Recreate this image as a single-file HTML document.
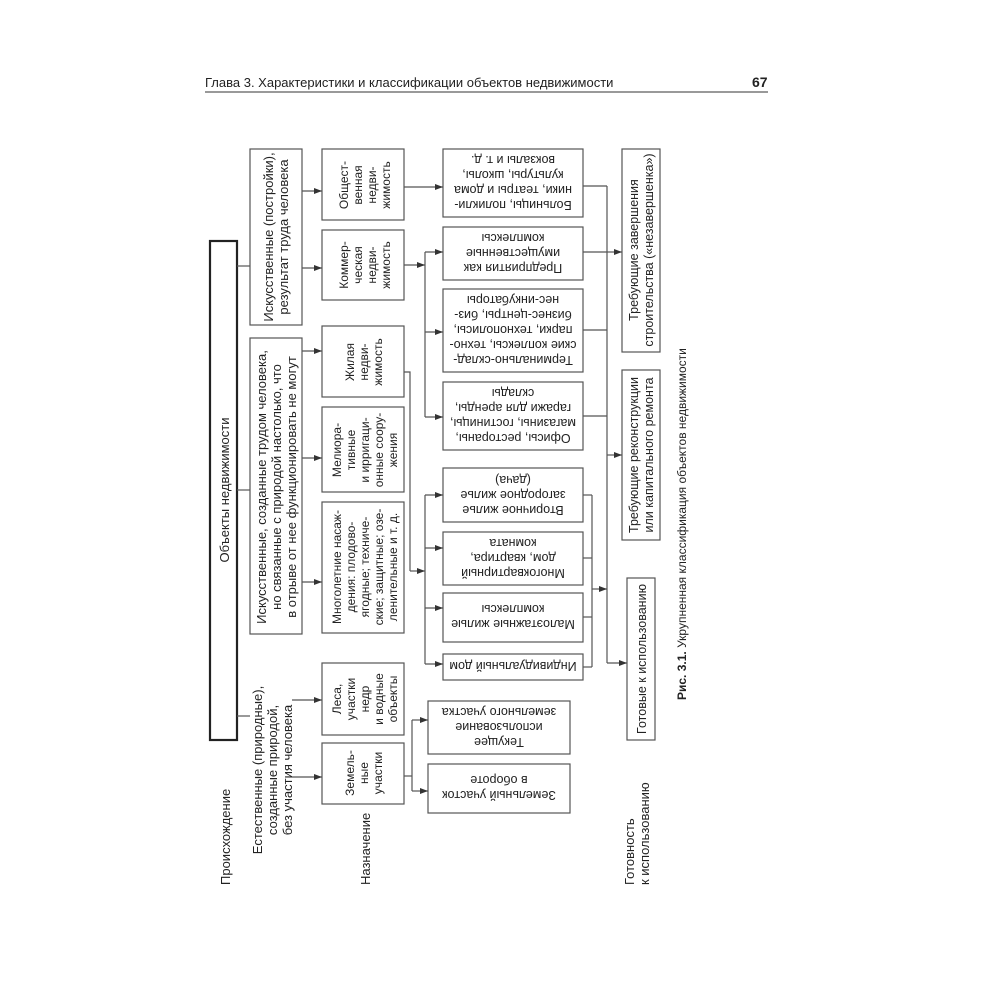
<!DOCTYPE html>
<html><head><meta charset="utf-8">
<style>
html,body{margin:0;padding:0;background:#fff;}
svg{display:block;}
text{font-family:"Liberation Sans","DejaVu Sans",sans-serif;fill:#222;}
</style></head>
<body>
<svg width="1000" height="1000" viewBox="0 0 1000 1000" xmlns="http://www.w3.org/2000/svg">
<defs>
<marker id="a" markerWidth="8" markerHeight="6" refX="8" refY="3" orient="auto" markerUnits="userSpaceOnUse">
<path d="M0,0 L8,3 L0,6 z" fill="#333"/>
</marker>
</defs>
<text x="205" y="87" font-size="13">Глава 3. Характеристики и классификации объектов недвижимости</text>
<text x="752" y="87" font-size="14" font-weight="bold">67</text>
<line x1="205" y1="92" x2="768" y2="92" stroke="#333" stroke-width="1"/>

<g fill="none" stroke="#555" stroke-width="1.2">
<rect x="210" y="241" width="27" height="499" stroke="#222" stroke-width="2.2"/>
<rect x="250" y="149" width="52" height="176"/>
<rect x="250" y="338" width="52" height="296"/>
<rect x="322" y="149" width="82" height="71"/>
<rect x="322" y="230" width="82" height="70"/>
<rect x="322" y="326" width="82" height="71"/>
<rect x="322" y="407" width="82" height="85"/>
<rect x="322" y="502" width="82" height="131"/>
<rect x="322" y="663" width="82" height="72"/>
<rect x="322" y="743" width="82" height="61"/>
<rect x="443" y="149" width="140" height="68"/>
<rect x="443" y="227" width="140" height="53"/>
<rect x="443" y="289" width="140" height="83"/>
<rect x="443" y="382" width="140" height="68"/>
<rect x="443" y="468" width="140" height="54"/>
<rect x="443" y="532" width="140" height="53"/>
<rect x="443" y="593" width="140" height="49"/>
<rect x="443" y="654" width="140" height="26"/>
<rect x="428" y="701" width="142" height="53"/>
<rect x="428" y="764" width="142" height="49"/>
<rect x="622" y="149" width="38" height="203"/>
<rect x="622" y="370" width="38" height="170"/>
<rect x="627" y="578" width="28" height="162"/>

<line x1="237" y1="266" x2="250" y2="266"/>
<line x1="237" y1="490" x2="250" y2="490"/>
<line x1="237" y1="716" x2="250" y2="716"/>
<line x1="302" y1="191" x2="322" y2="191" marker-end="url(#a)"/>
<line x1="302" y1="268" x2="322" y2="268" marker-end="url(#a)"/>
<line x1="302" y1="351" x2="322" y2="351" marker-end="url(#a)"/>
<line x1="302" y1="458" x2="322" y2="458" marker-end="url(#a)"/>
<line x1="302" y1="582" x2="322" y2="582" marker-end="url(#a)"/>
<line x1="292" y1="700" x2="322" y2="700" marker-end="url(#a)"/>
<line x1="292" y1="777" x2="322" y2="777" marker-end="url(#a)"/>
<line x1="404" y1="187" x2="443" y2="187" marker-end="url(#a)"/>
<line x1="404" y1="265" x2="425" y2="265" marker-end="url(#a)"/>
<line x1="425" y1="252" x2="425" y2="417"/>
<line x1="425" y1="252" x2="443" y2="252" marker-end="url(#a)"/>
<line x1="425" y1="332" x2="443" y2="332" marker-end="url(#a)"/>
<line x1="425" y1="417" x2="443" y2="417" marker-end="url(#a)"/>
<polyline points="404,372 410,372 410,571"/>
<line x1="410" y1="571" x2="425" y2="571" marker-end="url(#a)"/>
<line x1="425" y1="495" x2="425" y2="664"/>
<line x1="425" y1="495" x2="443" y2="495" marker-end="url(#a)"/>
<line x1="425" y1="548" x2="443" y2="548" marker-end="url(#a)"/>
<line x1="425" y1="608" x2="443" y2="608" marker-end="url(#a)"/>
<line x1="425" y1="664" x2="443" y2="664" marker-end="url(#a)"/>
<polyline points="404,776 412,776"/>
<line x1="412" y1="720" x2="412" y2="791"/>
<line x1="412" y1="720" x2="428" y2="720" marker-end="url(#a)"/>
<line x1="412" y1="791" x2="428" y2="791" marker-end="url(#a)"/>
<line x1="583" y1="186" x2="607" y2="186"/>
<line x1="583" y1="252" x2="607" y2="252"/>
<line x1="583" y1="330" x2="607" y2="330"/>
<line x1="583" y1="416" x2="607" y2="416"/>
<line x1="607" y1="186" x2="607" y2="663"/>
<line x1="607" y1="252" x2="622" y2="252" marker-end="url(#a)"/>
<line x1="607" y1="455" x2="622" y2="455" marker-end="url(#a)"/>
<line x1="607" y1="663" x2="627" y2="663" marker-end="url(#a)"/>
<line x1="583" y1="495" x2="592" y2="495"/>
<line x1="583" y1="558" x2="592" y2="558"/>
<line x1="583" y1="617" x2="592" y2="617"/>
<line x1="583" y1="667" x2="592" y2="667"/>
<line x1="592" y1="495" x2="592" y2="667"/>
<line x1="592" y1="589" x2="607" y2="589" marker-end="url(#a)"/>
</g>

<g font-size="13" text-anchor="middle">
<g transform="translate(224,490) rotate(-90)"><text y="5">Объекты недвижимости</text></g>
<g transform="translate(276,237) rotate(-90)"><text y="-3">Искусственные (постройки),</text><text y="12">результат труда человека</text></g>
<g transform="translate(276,487) rotate(-90)"><text y="-10">Искусственные, созданные трудом человека,</text><text y="5">но связанные с природой настолько, что</text><text y="20">в отрыве от нее функционировать не могут</text></g>
<g transform="translate(272,770) rotate(-90)"><text y="-10">Естественные (природные),</text><text y="5">созданные природой,</text><text y="20">без участия человека</text></g>
</g>
<g font-size="12" text-anchor="middle">
<g transform="translate(363,185) rotate(-90)"><text y="-15">Общест-</text><text y="-1">венная</text><text y="13">недви-</text><text y="27">жимость</text></g>
<g transform="translate(363,265) rotate(-90)"><text y="-15">Коммер-</text><text y="-1">ческая</text><text y="13">недви-</text><text y="27">жимость</text></g>
<g transform="translate(363,362) rotate(-90)"><text y="-9">Жилая</text><text y="5">недви-</text><text y="19">жимость</text></g>
<g transform="translate(363,450) rotate(-90)"><text y="-22">Мелиора-</text><text y="-8">тивные</text><text y="6">и ирригаци-</text><text y="20">онные соору-</text><text y="34">жения</text></g>
<g transform="translate(363,567) rotate(-90)"><text y="-22">Многолетние насаж-</text><text y="-8">дения: плодово-</text><text y="6">ягодные; техниче-</text><text y="20">ские; защитные; озе-</text><text y="34">ленительные и т. д.</text></g>
<g transform="translate(363,699) rotate(-90)"><text y="-22">Леса,</text><text y="-8">участки</text><text y="6">недр</text><text y="20">и водные</text><text y="34">объекты</text></g>
<g transform="translate(363,773) rotate(-90)"><text y="-9">Земель-</text><text y="5">ные</text><text y="19">участки</text></g>
</g>
<!-- upside-down texts -->
<g font-size="12.5" text-anchor="middle">
<g transform="translate(513,183) rotate(180)"><text y="-18">Больницы, поликли-</text><text y="-3">ники, театры и дома</text><text y="12">культуры, школы,</text><text y="27">вокзалы и т. д.</text></g>
<g transform="translate(513,253) rotate(180)"><text y="-11">Предприятия как</text><text y="4">имущественные</text><text y="19">комплексы</text></g>
<g transform="translate(513,330) rotate(180)"><text y="-26">Терминально-склад-</text><text y="-11">ские коплексы, техно-</text><text y="4">парки, технополисы,</text><text y="19">бизнес-центры, биз-</text><text y="34">нес-инкубаторы</text></g>
<g transform="translate(513,416) rotate(180)"><text y="-18">Офисы, рестораны,</text><text y="-3">магазины, гостиницы,</text><text y="12">гаражи для аренды,</text><text y="27">склады</text></g>
<g transform="translate(513,495) rotate(180)"><text y="-11">Вторичное жилье</text><text y="4">загородное жилье</text><text y="19">(дача)</text></g>
<g transform="translate(513,558) rotate(180)"><text y="-11">Многоквартирный</text><text y="4">дом, квартира,</text><text y="19">комната</text></g>
<g transform="translate(513,617) rotate(180)"><text y="-3">Малоэтажные жилые</text><text y="12">комплексы</text></g>
<g transform="translate(513,667) rotate(180)"><text y="5">Индивидуальный дом</text></g>
<g transform="translate(499,727) rotate(180)"><text y="-11">Текущее</text><text y="4">использование</text><text y="19">земельного участка</text></g>
<g transform="translate(499,788) rotate(180)"><text y="-3">Земельный участок</text><text y="12">в обороте</text></g>
</g>
<g font-size="12.5" text-anchor="middle">
<g transform="translate(641,250) rotate(-90)"><text y="-3">Требующие завершения</text><text y="12">строительства («незавершенка»)</text></g>
<g transform="translate(641,455) rotate(-90)"><text y="-3">Требующие реконструкции</text><text y="12">или капитального ремонта</text></g>
<g transform="translate(641,659) rotate(-90)"><text y="5">Готовые к использованию</text></g>
</g>
<g font-size="13">
<g transform="translate(230,885) rotate(-90)"><text>Происхождение</text></g>
<g transform="translate(370,885) rotate(-90)"><text>Назначение</text></g>
<g transform="translate(634,885) rotate(-90)"><text>Готовность</text><text y="15">к использованию</text></g>
<g transform="translate(686,700) rotate(-90)"><text font-size="12"><tspan font-weight="bold">Рис. 3.1.</tspan> Укрупненная классификация объектов недвижимости</text></g>
</g>
</svg>
</body></html>
